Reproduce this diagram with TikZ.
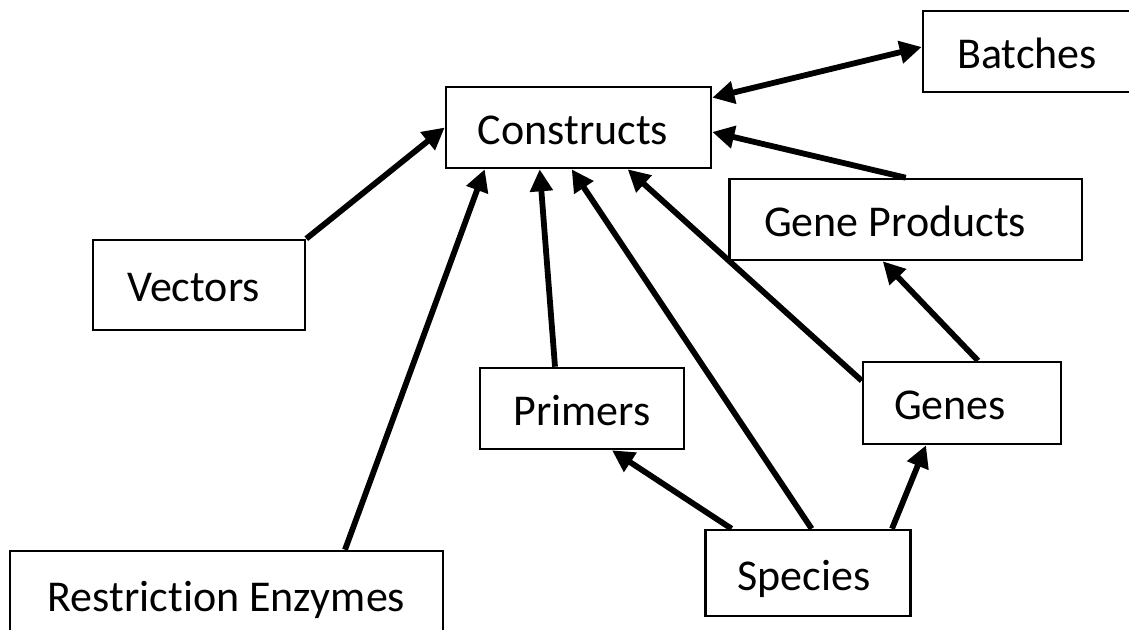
\documentclass[tikz,border=0pt]{standalone}
\usepackage{fontspec}
\setmainfont{Carlito}[Ligatures=NoCommon]
\usetikzlibrary{arrows.meta}
\begin{document}
\begin{tikzpicture}[x=0.5pt,y=-0.5pt,
  box/.style={draw=black, line width=1.3pt, rectangle, inner sep=0pt,
    font=\fontsize{22}{26}\selectfont, text height=17pt, text depth=0pt},
  conn/.style={line width=2.9pt, -{Triangle[length=11pt,width=11pt]}},
  biconn/.style={line width=2.9pt, {Triangle[length=11pt,width=11pt]}-{Triangle[length=11pt,width=11pt]}}]
\useasboundingbox (0,0) rectangle (1129,630);
\fill[white] (0,0) rectangle (1129,630);
\clip (0,0) rectangle (1129,630);

\node[box, minimum width=132.5pt, minimum height=40.5pt] (c) at (578.5,127.5) {\hspace*{-5.5pt}Constructs};
\node[box, minimum width=104pt, minimum height=40.5pt] (b) at (1027,51.5) {Batches};
\node[box, minimum width=176.25pt, minimum height=40.5pt] (gp) at (905.75,219.5) {\hspace*{-10.75pt}Gene Products};
\node[box, minimum width=106pt, minimum height=45pt] (v) at (199,285) {\hspace*{-5.5pt}Vectors};
\node[box, minimum width=102pt, minimum height=40.5pt] (p) at (582,408.5) {Primers};
\node[box, minimum width=99pt, minimum height=41pt] (g) at (962,403) {\hspace*{-12pt}Genes};
\node[box, minimum width=102.25pt, minimum height=43pt] (s) at (808,573) {\hspace*{-4pt}Species};
\node[box, minimum width=216.5pt, minimum height=43pt] (re) at (226.5,594) {Restriction Enzymes};

\draw[conn] (v.north east) -- (c.west);
\draw[conn] ([xshift=59.25pt]re.north) -- ([xshift=20pt]c.south west);
\draw[conn] ([xshift=-13.5pt]p.north) -- ([xshift=47.5pt]c.south west);
\draw[conn] ([xshift=1.8pt]s.north) -- ([xshift=63.5pt]c.south west);
\draw[conn] ([yshift=-10pt]g.north west) -- ([xshift=91.5pt]c.south west);
\draw[conn] (gp.north) -- ([yshift=-2.25pt]c.east);
\draw[biconn] ([yshift=-6pt]c.north east) -- ([yshift=2.25pt]b.west);
\draw[conn] ([xshift=8pt]g.north) -- ([xshift=-11.5pt]gp.south);
\draw[conn] ([xshift=-38.25pt]s.north) -- ([xshift=15pt]p.south);
\draw[conn] ([xshift=42pt]s.north) -- ([xshift=-18pt]g.south);
\end{tikzpicture}
\end{document}
